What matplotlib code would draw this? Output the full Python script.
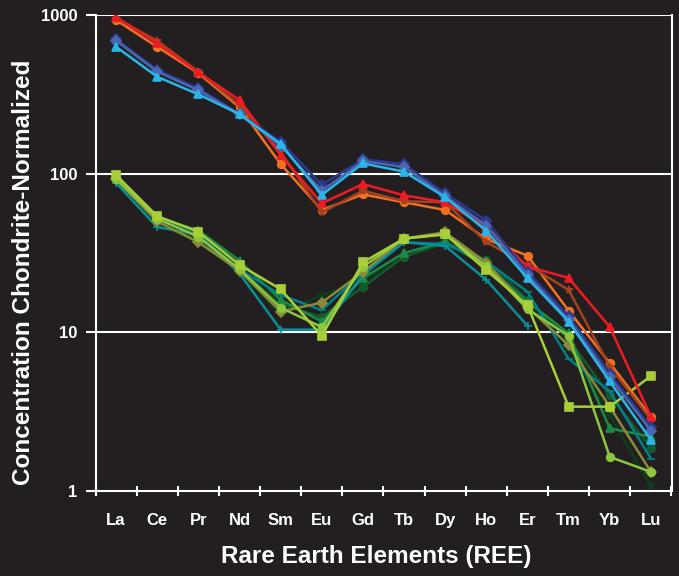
import numpy as np
import matplotlib
matplotlib.use("Agg")
import matplotlib.pyplot as plt

elements = ["La", "Ce", "Pr", "Nd", "Sm", "Eu", "Gd", "Tb", "Dy", "Ho", "Er", "Tm", "Yb", "Lu"]
nan = np.nan

# Lower (green/teal) group
light_green = [98, 54, 43, 26.6, 18.7, 9.5, 27.6, 39, 41.5, 24.6, 14.8, 3.4, 3.4, 5.3]
lime = [93, 52, 40, 25, 14.3, 10.8, 25.9, 39, 41.5, 26, 14, 9.5, 1.64, 1.32]
olive = [92, 50, 37, 24.5, 13.5, 15.4, 24, 39, 42.7, 27.5, 14.4, 8.3, 3.4, 1.32]
teal_plus = [87.5, 46, 41.5, 23.5, 10.4, 10.4, 23, 37, 35, 21.4, 11, nan, nan, nan]
teal_dash = [90, 52, 41, 25, 17.2, 13.8, 24, 37, 36, 28, 18, 6.8, 4.26, 1.6]
green_tri = [95, 53, 44, 28.3, 16, 11.7, 22, 31.6, 37.2, 26, 15.6, 9.85, 2.48, 2.2]
dark_green = [96, 50, 38, 25, 15, 12.5, 19.3, 30, 37, 28.5, 16, 9, 4, 1.87]
darkest_green = [97, 48, 37, 24, 13, 17.2, 21, 30, 36, 28, 16, 8, 3, 1.07]

# Upper (red/blue) group
red = [970, 665, 435, 291, 131, 65, 86, 73, 66, 46, 26, 22, 10.8, 2.94]
brown = [950, 688, 440, 271, 137, 57, 78, 67, 66, 37, 26.6, 18.5, 6.06, 2.83]
orange = [929, 630, 430, 262, 115, 59, 74, 66, 59, 38.7, 30.4, 13.7, 6.4, 2.94]
navy = [705, 450, 345, 237, 159, 85, 123, 115, 75, 50.5, 24, 12.7, 5.5, 2.52]
steel = [690, 440, 335, 237, 150, 78, 120, 110, 72, 47, 23, 12, 5.2, 2.4]
cyan = [630, 408, 316, 237, 154, 73.5, 116, 103, 71, 43.6, 21.9, 11.7, 4.9, 2.1]

series = [
    (darkest_green, "#0d3d1f", "*"),
    (dark_green, "#145a2e", "o"),
    (green_tri, "#1a8a45", "^"),
    (teal_dash, "#00808a", "_"),
    (teal_plus, "#0b8f96", "+"),
    (olive, "#8a8a3a", "D"),
    (lime, "#8cc63f", "o"),
    (light_green, "#a8cf38", "s"),
    (orange, "#f37021", "o"),
    (brown, "#a3421e", "*"),
    (red, "#ed1c24", "^"),
    (navy, "#2b3990", "D"),
    (steel, "#4a67b0", "D"),
    (cyan, "#29b6e8", "^"),
]

BG = "#231f20"
fig = plt.figure(figsize=(6.79, 5.76), dpi=100, facecolor=BG)
ax = fig.add_axes([95.5 / 679, 1 - 491 / 576, (671.5 - 95.5) / 679, (491 - 15) / 576])
ax.set_facecolor(BG)

x = np.arange(len(elements))
for vals, col, mk in series:
    ax.plot(x, vals, color=col, marker=mk, markersize=5.5, linewidth=1.8,
            markeredgecolor=col, markeredgewidth=1.2, solid_joinstyle="miter")

ax.set_yscale("log")
ax.set_ylim(1, 1000)
ax.set_xlim(-0.5, len(elements) - 0.5)

for v in [10, 100, 1000]:
    ax.axhline(v, color="white", linewidth=1.5, zorder=0)

ax.set_yticks([1, 10, 100, 1000])
ax.set_yticklabels(["1", "10", "100", "1000"])
ax.yaxis.set_minor_locator(matplotlib.ticker.NullLocator())
ax.set_xticks(x)
ax.set_xticklabels(elements)
ax.set_xticks(np.arange(-0.5, len(elements)), minor=True)
ax.tick_params(axis="x", which="major", length=0, pad=16, colors="white", labelsize=12)
ax.tick_params(axis="x", which="minor", length=7, width=1.5, direction="inout", colors="white")
ax.tick_params(axis="y", which="major", length=7, width=1.5, direction="out", colors="white", labelsize=12, pad=6)
for lab in ax.get_xticklabels() + ax.get_yticklabels():
    lab.set_fontweight("bold")
    lab.set_fontfamily("Liberation Sans")

for s in ["left", "right", "bottom"]:
    ax.spines[s].set_color("white")
    ax.spines[s].set_linewidth(1.5)
ax.spines["top"].set_visible(False)

fig.text(24 / 679, 1 - 272 / 576, "Concentration Chondrite-Normalized", rotation=90,
         ha="center", va="center", color="white", fontsize=17.5, fontweight="bold",
         family="Liberation Sans")
fig.text(376 / 679, 1 - 556 / 576, "Rare Earth Elements (REE)", ha="center", va="center",
         color="white", fontsize=17.5, fontweight="bold", family="Liberation Sans")

fig.savefig("out.png", dpi=100, facecolor=BG)
